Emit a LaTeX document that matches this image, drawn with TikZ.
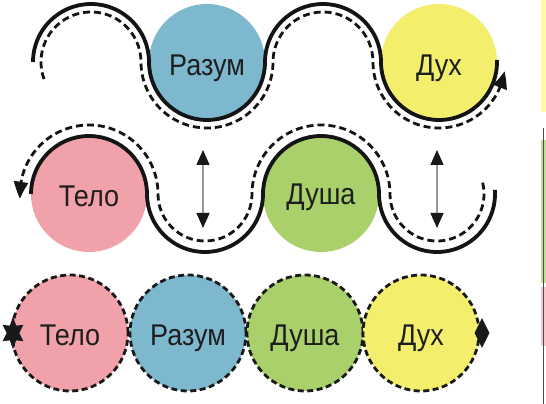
\documentclass[tikz,border=0pt]{standalone}
\usepackage{fontspec}
\setmainfont{Liberation Sans}
\usetikzlibrary{arrows.meta,shapes.geometric,bending}
\definecolor{cpink}{HTML}{F0A1A9}
\definecolor{cblue}{HTML}{7EB8CF}
\definecolor{cgreen}{HTML}{A9D06B}
\definecolor{cyell}{HTML}{F3EF6C}
\definecolor{ctext}{HTML}{1E1E1E}
\tikzset{
  ball/.style={circle, minimum size=116pt, inner sep=0pt},
  dball/.style={ball, draw=black!90, line width=2.8pt, dash pattern=on 6pt off 3.5pt},
  lbl/.style={font=\fontsize{30}{30}\selectfont, text=ctext, anchor=base, inner sep=0pt},
  wave/.style={line width=3.8pt, black!92},
  dwave/.style={line width=2.8pt, black!92, dash pattern=on 7pt off 4pt},
  tip/.style={-{Triangle[length=17pt,width=14pt,bend]}},
  vdouble/.style={line width=1.3pt, black!40, {Triangle[length=15pt,width=13pt,color=black!90]}-{Triangle[length=15pt,width=13pt,color=black!90]}},
}
\newcommand{\lab}[1]{\scalebox{0.9}[1]{#1}}
\begin{document}
\begin{tikzpicture}[x=1pt,y=1pt]
\useasboundingbox (0,0) rectangle (546,404);
\fill[white] (0,0) rectangle (546,404);

% top row circles
\node[ball, fill=cblue] (razum1) at (207,342) {};
\node[ball, fill=cyell] (dukh1) at (439,342) {};
\node[lbl] at (207,328) {\lab{Разум}};
\node[lbl] at (439,328) {\lab{Дух}};

% middle row circles
\node[ball, fill=cpink] (telo1) at (89,210) {};
\node[ball, fill=cgreen] (dusha1) at (321,210) {};
\node[lbl] at (89,197) {\lab{Тело}};
\node[lbl] at (321,199) {\lab{Душа}};

% top solid wave
\draw[wave] (33,342) arc[start angle=180,end angle=0,radius=58pt]
  arc[start angle=180,end angle=360,radius=58pt]
  arc[start angle=180,end angle=0,radius=58pt]
  arc[start angle=180,end angle=362,radius=58pt];
% top dashed wave
\draw[dwave, tip] ([shift={(91,342)}]200:50pt) arc[start angle=200,end angle=0,radius=50pt]
  arc[start angle=180,end angle=360,radius=66pt]
  arc[start angle=180,end angle=0,radius=50pt]
  arc[start angle=180,end angle=352,radius=66pt];

% middle solid wave
\draw[wave] (31,210) arc[start angle=180,end angle=0,radius=58pt]
  arc[start angle=180,end angle=360,radius=58pt]
  arc[start angle=180,end angle=0,radius=58pt]
  arc[start angle=180,end angle=364,radius=58pt];
% middle dashed wave
\draw[dwave, tip] ([shift={(437,210)}]14:47pt) arc[start angle=14,end angle=-180,radius=47pt]
  arc[start angle=0,end angle=180,radius=69pt]
  arc[start angle=0,end angle=-180,radius=47pt]
  arc[start angle=0,end angle=184,radius=69pt];

% vertical double arrows
\coordinate (a1t) at (203,254);
\coordinate (a1b) at (203,176);
\coordinate (a2t) at (437,254);
\coordinate (a2b) at (437,176);
\draw[vdouble] (a1t) -- (a1b);
\draw[vdouble] (a2t) -- (a2b);

% bottom row
\node[dball, fill=cpink] (telo2) at (70,71) {};
\node[dball, fill=cblue] (razum2) at (188,71) {};
\node[dball, fill=cgreen] (dusha2) at (305,71) {};
\node[dball, fill=cyell] (dukh2) at (421,71) {};
\node[lbl] at (70,58) {\lab{Тело}};
\node[lbl] at (188,58) {\lab{Разум}};
\node[lbl] at (305,58) {\lab{Душа}};
\node[lbl] at (421,58) {\lab{Дух}};
\node[star, star points=6, star point ratio=1.9, fill=black!90, minimum size=24pt, inner sep=0pt, yscale=1.35] (mstar) at (13,71) {};
\node[diamond, fill=black!90, minimum width=15pt, minimum height=30pt, inner sep=0pt] (mdiam) at (482,71) {};

% fragment at the right edge
\fill[yellow!35] (541,292) rectangle (546,404);
\fill[cgreen!70] (541,121) rectangle (546,264);
\fill[cpink!60] (541,58) rectangle (546,117);
\draw[black!70, line width=0.8pt] (543,0) -- (543,276);
\end{tikzpicture}
\end{document}
